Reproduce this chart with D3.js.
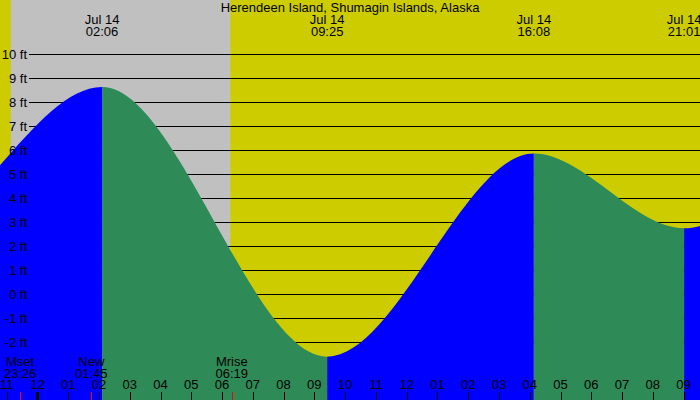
<!DOCTYPE html>
<html>
<head>
<meta charset="utf-8">
<script src="https://cdn.jsdelivr.net/npm/d3@7"></script>
<style>
  html, body { margin: 0; padding: 0; background: #fff; }
  svg { display: block; }
  text { font-family: "Liberation Sans", Arial, sans-serif; font-size: 13px; fill: #000; }
</style>
</head>
<body>
<svg id="chart" width="700" height="400"></svg>
<script>
// ---- data ----
const title = "Herendeen Island, Shumagin Islands, Alaska";
const tideTimes = ["2023-07-13 13:20", "2023-07-13 19:36", "2023-07-14 02:06", "2023-07-14 09:25", "2023-07-14 16:08", "2023-07-14 21:01", "2023-07-15 03:12", "2023-07-15 09:50"];
const tideHeights = [7.0, 2.3, 8.62, -2.61, 5.85, 2.74, 7.6, -1.5];
const labelledTides = [2, 3, 4, 5];
const yTickValues = [-2, -1, 0, 1, 2, 3, 4, 5, 6, 7, 8, 9, 10];
const timeDomain = ["2023-07-13 22:47", "2023-07-14 21:32"];
const nightStart = "2023-07-13 23:08";
const nightEnd = "2023-07-14 06:16";
const moonNames = ["Mset", "New", "Mrise"];
const moonTimes = ["2023-07-13 23:26", "2023-07-14 01:45", "2023-07-14 06:19"];

// ---- setup ----
const W = 700, H = 400;
const parse = d3.timeParse("%Y-%m-%d %H:%M");
const svg = d3.select("#chart");

const x = d3.scaleTime().domain(timeDomain.map(parse)).range([0, W]);
const y = d3.scaleLinear().domain([-2, 10]).range([342, 54]);

const tides = tideTimes.map((t, i) => ({ t: parse(t), h: tideHeights[i] }));

// background (day)
svg.append("rect").attr("x", 0).attr("y", 0).attr("width", W).attr("height", H).attr("fill", "#cccc00");
// night
svg.append("rect")
  .attr("x", x(parse(nightStart)))
  .attr("y", 0)
  .attr("width", x(parse(nightEnd)) - x(parse(nightStart)))
  .attr("height", H)
  .attr("fill", "#c0c0c0");

// grid lines
svg.append("g").selectAll("line").data(yTickValues).join("line")
  .attr("x1", 29).attr("x2", W)
  .attr("y1", d => Math.round(y(d)) + 0.5).attr("y2", d => Math.round(y(d)) + 0.5)
  .attr("stroke", "#000").attr("stroke-width", 1);

// tide area, coloured per segment (rising blue, falling green)
const area = d3.area()
  .x(d => x(d.t))
  .y0(H)
  .y1(d => y(d.h))
  .curve(d3.curveMonotoneX);

const defs = svg.append("defs");
const segs = d3.pairs(tides);
segs.forEach((p, i) => {
  const x0 = x(p[0].t), x1 = x(p[1].t);
  defs.append("clipPath").attr("id", "seg" + i)
    .append("rect").attr("x", x0).attr("y", 0).attr("width", x1 - x0).attr("height", H);
  svg.append("path")
    .datum(tides)
    .attr("d", area)
    .attr("clip-path", `url(#seg${i})`)
    .attr("fill", p[1].h > p[0].h ? "#0000ff" : "#2e8b57");
});

// y labels
svg.append("g").selectAll("text").data(yTickValues).join("text")
  .attr("x", 27).attr("y", d => y(d) + 4.5)
  .attr("text-anchor", "end")
  .text(d => `${d} ft`);

// title
svg.append("text").attr("x", W / 2).attr("y", 12).attr("text-anchor", "middle").text(title);

// extreme labels
const fmtDay = d3.timeFormat("%b %-d");
const fmtTime = d3.timeFormat("%H:%M");
const tl = svg.append("g").selectAll("g").data(labelledTides.map(i => tides[i])).join("g")
  .attr("transform", d => `translate(${x(d.t)},0)`);
tl.append("text").attr("y", 24).attr("text-anchor", "middle").text(d => fmtDay(d.t));
tl.append("text").attr("y", 36).attr("text-anchor", "middle").text(d => fmtTime(d.t));

// hour ticks
const hours = x.ticks(d3.timeHour.every(1));
const fmtHour = d3.timeFormat("%I");
svg.append("g").selectAll("line").data(hours).join("line")
  .attr("x1", d => Math.round(x(d)) + 0.5).attr("x2", d => Math.round(x(d)) + 0.5)
  .attr("y1", 392).attr("y2", H)
  .attr("stroke", "#000")
  .attr("stroke-width", d => d.getHours() === 0 ? 3 : 1);
svg.append("g").selectAll("text").data(hours).join("text")
  .attr("x", d => x(d)).attr("y", 389)
  .attr("text-anchor", "middle")
  .text(d => fmtHour(d));

// moon events
const moon = moonNames.map((n, i) => ({ name: n, t: parse(moonTimes[i]) }));
svg.append("g").selectAll("line").data(moon).join("line")
  .attr("x1", d => Math.round(x(d.t)) + 0.5).attr("x2", d => Math.round(x(d.t)) + 0.5)
  .attr("y1", 392).attr("y2", H)
  .attr("stroke", "#ff0000").attr("stroke-width", 1);
const ml = svg.append("g").selectAll("g").data(moon).join("g")
  .attr("transform", d => `translate(${x(d.t)},0)`);
ml.append("text").attr("y", 366).attr("text-anchor", "middle").text(d => d.name);
ml.append("text").attr("y", 378).attr("text-anchor", "middle").text(d => fmtTime(d.t));
</script>
</body>
</html>
